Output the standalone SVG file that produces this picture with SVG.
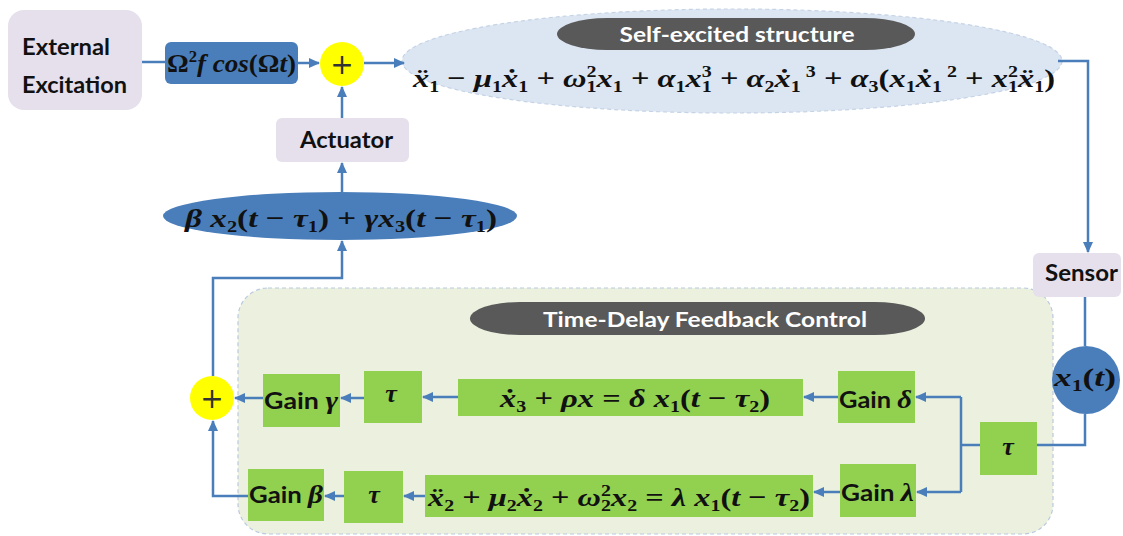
<svg xmlns="http://www.w3.org/2000/svg" width="1123" height="536" viewBox="0 0 1123 536">
<style>
.lav{fill:#e5e0ec}
.blue{fill:#4a7ebb}
.grn{fill:#92d050}
.yel{fill:#ffff00}
.pill{fill:#595959}
.lbl{font-family:Lato,"Liberation Sans",sans-serif;font-weight:bold;font-size:22px;fill:#111}
.g{font-size:23px}
.wt{font-family:Lato,"Liberation Sans",sans-serif;font-weight:bold;font-size:21px;fill:#ffffff}
.m{font-family:"Liberation Serif","DejaVu Serif",serif;font-weight:bold;font-style:italic;font-size:26px;fill:#111}
.n{font-style:normal}
.s{font-style:normal;font-size:16px;baseline-shift:-5px}
.p{font-style:normal;font-size:16px;baseline-shift:10px}
.plus{font-family:"DejaVu Sans",sans-serif;font-size:28px;fill:#333}
.c{fill:none;stroke:#4a7ebb;stroke-width:2.5}
.a{marker-end:url(#arr)}
</style>
<defs>
<marker id="arr" markerUnits="userSpaceOnUse" markerWidth="12" markerHeight="12" refX="10" refY="6" orient="auto">
<path d="M0,1 L11,6 L0,11 z" fill="#4a7ebb"/>
</marker>
</defs>

<g id="container-tdfc">
<rect x="238" y="288" width="815" height="246" rx="30" fill="#ebf1de" stroke="#b9c9df" stroke-width="1.2" stroke-dasharray="4 3"/>
<rect x="470" y="302" width="455" height="33" rx="50" ry="16.5" class="pill"/>
<text class="wt" x="705" y="327" text-anchor="middle" textLength="324" lengthAdjust="spacingAndGlyphs">Time-Delay Feedback Control</text>
</g>

<g id="self-excited">
<ellipse cx="732" cy="61" rx="330" ry="52" fill="#dce6f2" stroke="#c5d3e6" stroke-width="1.2" stroke-dasharray="4 3"/>
<rect x="557" y="18" width="358" height="32" rx="50" ry="16" class="pill"/>
<text class="wt" x="737" y="42" text-anchor="middle" textLength="235" lengthAdjust="spacingAndGlyphs">Self-excited structure</text>
<text class="m" x="413" y="87" textLength="642" lengthAdjust="spacingAndGlyphs">ẍ<tspan class="s">1</tspan><tspan class="n"> − </tspan>μ<tspan class="s">1</tspan>ẋ<tspan class="s">1</tspan><tspan class="n"> + </tspan>ω<tspan class="p">2</tspan><tspan class="s" dx="-8">1</tspan>x<tspan class="s">1</tspan><tspan class="n"> + </tspan>α<tspan class="s">1</tspan>x<tspan class="p">3</tspan><tspan class="s" dx="-8">1</tspan><tspan class="n"> + </tspan>α<tspan class="s">2</tspan>ẋ<tspan class="s">1</tspan><tspan class="p"> 3</tspan><tspan class="n"> + </tspan>α<tspan class="s">3</tspan><tspan class="n">(</tspan>x<tspan class="s">1</tspan>ẋ<tspan class="s">1</tspan><tspan class="p"> 2</tspan><tspan class="n"> + </tspan>x<tspan class="p">2</tspan><tspan class="s" dx="-8">1</tspan>ẍ<tspan class="s">1</tspan><tspan class="n">)</tspan></text>
</g>

<g id="external-excitation">
<rect x="8" y="10" width="134" height="100" rx="16" class="lav"/>
<text class="lbl" x="22" y="55" textLength="88" lengthAdjust="spacingAndGlyphs">External</text>
<text class="lbl" x="22" y="93" textLength="105" lengthAdjust="spacingAndGlyphs">Excitation</text>
</g>

<g id="forcing">
<rect x="165" y="42" width="133" height="42" rx="6" class="blue"/>
<text class="m" x="167" y="72" font-size="26" textLength="129" lengthAdjust="spacingAndGlyphs"><tspan class="n">Ω</tspan><tspan class="p">2</tspan>f cos<tspan class="n">(Ω</tspan>t<tspan class="n">)</tspan></text>
</g>

<g id="sum-top">
<circle cx="342" cy="64" r="22" class="yel"/>
<text class="plus" x="342" y="74" text-anchor="middle">+</text>
</g>

<g id="actuator">
<rect x="276" y="118" width="133" height="44" rx="6" class="lav"/>
<text class="lbl" x="300" y="148" textLength="93" lengthAdjust="spacingAndGlyphs">Actuator</text>
</g>

<g id="control-signal">
<ellipse cx="340" cy="216" rx="177" ry="24" class="blue"/>
<text class="m" x="185" y="227" font-size="27" textLength="312" lengthAdjust="spacingAndGlyphs">β x<tspan class="s">2</tspan><tspan class="n">(</tspan>t<tspan class="n"> − </tspan>τ<tspan class="s">1</tspan><tspan class="n">) + </tspan>γx<tspan class="s">3</tspan><tspan class="n">(</tspan>t<tspan class="n"> − </tspan>τ<tspan class="s">1</tspan><tspan class="n">)</tspan></text>
</g>

<g id="sensor">
<rect x="1033" y="253" width="88" height="44" rx="6" class="lav"/>
<text class="lbl" x="1045" y="281" textLength="73" lengthAdjust="spacingAndGlyphs">Sensor</text>
</g>

<g id="x1t">
<circle cx="1086" cy="380" r="34" class="blue"/>
<text class="m" x="1054" y="386" font-size="25" textLength="62" lengthAdjust="spacingAndGlyphs">x<tspan class="s">1</tspan><tspan class="n">(</tspan>t<tspan class="n">)</tspan></text>
</g>

<g id="tau-main">
<rect x="980" y="422" width="57" height="53" class="grn"/>
<text class="m" x="1008" y="455" text-anchor="middle">τ</text>
</g>

<g id="gain-delta">
<rect x="838" y="371" width="77" height="52" class="grn"/>
<text x="839" y="408" textLength="73" lengthAdjust="spacingAndGlyphs"><tspan class="lbl g">Gain </tspan><tspan class="m">δ</tspan></text>
</g>

<g id="gain-lambda">
<rect x="840" y="464" width="76" height="53" class="grn"/>
<text x="841" y="501" textLength="73" lengthAdjust="spacingAndGlyphs"><tspan class="lbl g">Gain </tspan><tspan class="m">λ</tspan></text>
</g>

<g id="eq-delta">
<rect x="458" y="379" width="345" height="37" class="grn"/>
<text class="m" x="500" y="407" textLength="270" lengthAdjust="spacingAndGlyphs">ẋ<tspan class="s">3</tspan><tspan class="n"> + </tspan>ρx<tspan class="n"> = </tspan>δ x<tspan class="s">1</tspan><tspan class="n">(</tspan>t<tspan class="n"> − </tspan>τ<tspan class="s">2</tspan><tspan class="n">)</tspan></text>
</g>

<g id="eq-lambda">
<rect x="425" y="475" width="388" height="42" class="grn"/>
<text class="m" x="428" y="506" textLength="382" lengthAdjust="spacingAndGlyphs">ẍ<tspan class="s">2</tspan><tspan class="n"> + </tspan>μ<tspan class="s">2</tspan>ẋ<tspan class="s">2</tspan><tspan class="n"> + </tspan>ω<tspan class="p">2</tspan><tspan class="s" dx="-8">2</tspan>x<tspan class="s">2</tspan><tspan class="n"> = </tspan>λ x<tspan class="s">1</tspan><tspan class="n">(</tspan>t<tspan class="n"> − </tspan>τ<tspan class="s">2</tspan><tspan class="n">)</tspan></text>
</g>

<g id="tau-top">
<rect x="364" y="371" width="58" height="52" class="grn"/>
<text class="m" x="391" y="402" text-anchor="middle">τ</text>
</g>

<g id="tau-bottom">
<rect x="344" y="471" width="59" height="52" class="grn"/>
<text class="m" x="374" y="503" text-anchor="middle">τ</text>
</g>

<g id="gain-gamma">
<rect x="263" y="374" width="77" height="53" class="grn"/>
<text x="264" y="409" textLength="74" lengthAdjust="spacingAndGlyphs"><tspan class="lbl g">Gain </tspan><tspan class="m">γ</tspan></text>
</g>

<g id="gain-beta">
<rect x="248" y="469" width="76" height="52" class="grn"/>
<text x="249" y="503" textLength="74" lengthAdjust="spacingAndGlyphs"><tspan class="lbl g">Gain </tspan><tspan class="m">β</tspan></text>
</g>

<g id="sum-bottom">
<circle cx="212" cy="398" r="22" class="yel"/>
<text class="plus" x="212" y="408" text-anchor="middle">+</text>
</g>

<g id="connectors">
<path class="c" d="M142,62 H165"/>
<path class="c a" d="M298,63 H319"/>
<path class="c a" d="M364,63 H404"/>
<path class="c a" d="M1058,61 H1088 V252"/>
<path class="c" d="M1085,297 V346"/>
<path class="c" d="M1085,414 V445 H1037"/>
<path class="c" d="M980,445 H961"/>
<path class="c" d="M961,397 V492"/>
<path class="c a" d="M961,397 H916"/>
<path class="c a" d="M961,492 H917"/>
<path class="c a" d="M838,397 H804"/>
<path class="c a" d="M458,397 H423"/>
<path class="c a" d="M364,398 H341"/>
<path class="c a" d="M263,398 H235"/>
<path class="c a" d="M840,492 H814"/>
<path class="c a" d="M425,496 H404"/>
<path class="c a" d="M344,496 H325"/>
<path class="c a" d="M248,496 H213 V421"/>
<path class="c a" d="M213,376 V278 H342 V241"/>
<path class="c a" d="M342,192 V163"/>
<path class="c a" d="M342,118 V87"/>
</g>
</svg>
